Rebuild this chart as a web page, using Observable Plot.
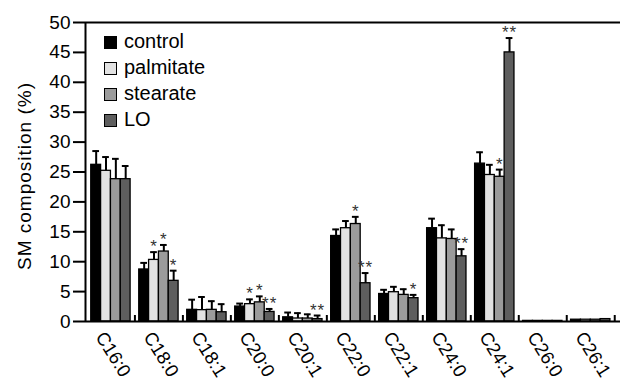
<!DOCTYPE html>
<html><head><meta charset="utf-8">
<script src="https://cdn.jsdelivr.net/npm/d3@7"></script>
<script src="https://cdn.jsdelivr.net/npm/@observablehq/plot@0.6"></script>
<style>
body{margin:0;background:#fff;font-family:"Liberation Sans",Arial,sans-serif;}
#wrap{position:relative;width:620px;height:380px;overflow:hidden;}
#legend{position:absolute;left:104px;top:28px;font-size:20px;line-height:26px;color:#000;}
#legend div{white-space:nowrap;}
.sw{display:inline-block;width:11px;height:11px;border:1.5px solid #000;margin-right:7px;vertical-align:-1px;}
</style></head><body><div id="wrap"><div id="legend"></div></div>
<script>
const categories = ["C16:0","C18:0","C18:1","C20:0","C20:1","C22:0","C22:1","C24:0","C24:1","C26:0","C26:1"];
const seriesNames = ["control","palmitate","stearate","LO"];
const seriesColors = ["#000000","#e2e2e2","#9b9b9b","#5e5e5e"];

const control    = [26.2, 8.7, 1.95, 2.5, 0.7, 14.3, 4.6, 15.6, 26.4, 0.1, 0.3];
const palmitate  = [25.2, 10.3, 1.9, 2.9, 0.5, 15.6, 4.9, 13.9, 24.5, 0.1, 0.3];
const stearate   = [23.8, 11.7, 1.95, 3.2, 0.5, 16.3, 4.45, 13.8, 24.2, 0.1, 0.3];
const LO         = [23.8, 6.8, 1.55, 1.6, 0.4, 6.4, 3.9, 10.9, 45.0, 0.1, 0.4];

const controlErr   = [2.3, 1.1, 1.7, 0.5, 0.8, 1.1, 0.7, 1.6, 1.9, 0, 0];
const palmitateErr = [2.3, 1.3, 2.2, 0.8, 0.9, 1.2, 0.9, 2.2, 1.7, 0, 0];
const stearateErr  = [3.4, 1.1, 1.45, 1.0, 0.7, 1.2, 0.95, 1.6, 1.2, 0, 0];
const LOErr        = [2.2, 1.7, 1.35, 0.5, 0.6, 1.7, 0.55, 1.2, 2.4, 0, 0];

const controlSig   = ["","","","","","","","","","",""];
const palmitateSig = ["","*","","*","","","","","","",""];
const stearateSig  = ["","*","","*","","*","","","*","",""];
const LOSig        = ["","*","","**","**","**","*","**","**","",""];

const yLabel = "SM composition (%)";

const values = [control, palmitate, stearate, LO];
const errors = [controlErr, palmitateErr, stearateErr, LOErr];
const sigs = [controlSig, palmitateSig, stearateSig, LOSig];

const pad = 0.09, w = 0.205;
const data = [];
categories.forEach((c, i) => {
  seriesNames.forEach((s, j) => {
    const x1 = i + pad + j * w;
    data.push({cat: c, series: s, x1, x2: x1 + w, xc: x1 + w / 2,
      value: values[j][i], top: values[j][i] + errors[j][i], err: errors[j][i], sig: sigs[j][i]});
  });
});
const errData = data.filter(d => d.err > 0);
const sigData = data.filter(d => d.sig);

const xMin = -0.03, xMax = 11.12;
const chart = Plot.plot({
  width: 620, height: 380,
  marginLeft: 85, marginRight: 0, marginTop: 22, marginBottom: 59,
  style: {fontFamily: "'Liberation Sans', Arial, sans-serif", background: "#fff", color: "#000", overflow: "hidden"},
  x: {domain: [xMin, xMax]},
  y: {domain: [0, 50]},
  color: {domain: seriesNames, range: seriesColors},
  marks: [
    Plot.rectY(data, {x1: "x1", x2: "x2", y1: 0, y2: "value", fill: d => d.series, stroke: "#000", strokeWidth: 1.3}),
    Plot.ruleX(errData, {x: "xc", y1: "value", y2: "top", stroke: "#000", strokeWidth: 2}),
    Plot.ruleY(errData, {x1: d => d.xc - 0.07, x2: d => d.xc + 0.07, y: "top", stroke: "#000", strokeWidth: 2}),
    Plot.text(sigData, {x: "xc", y: "top", text: "sig", fontSize: 17, fill: "#333", lineAnchor: "top", dy: -12}),
    Plot.ruleX(d3.range(1, 12), {y1: 0, y2: 1, stroke: "#000", strokeWidth: 2}),
    Plot.ruleY([0, 50], {stroke: "#000", strokeWidth: 2}),
    Plot.ruleX([xMin], {y1: 0, y2: 50, stroke: "#000", strokeWidth: 2}),
    Plot.axisY({ticks: d3.range(0, 51, 5), tickSize: 12, tickPadding: 3, fontSize: 19, strokeWidth: 2, label: null}),
    Plot.text([yLabel], {frameAnchor: "left", textAnchor: "middle", rotate: -90, dx: -61, dy: 4, fontSize: 19, fill: "#000"}),
    Plot.axisX({ticks: d3.range(11).map(i => i + 0.5), tickFormat: t => categories[Math.floor(t)],
      tickSize: 0, tickPadding: 12, tickRotate: 58, fontSize: 18.5, label: null, dx: -11})
  ]
});
document.getElementById("wrap").prepend(chart);
chart.querySelectorAll("text").forEach(t => {
  if (/^\*+$/.test(t.textContent)) t.setAttribute("letter-spacing", "1");
  if (t.textContent === yLabel) t.setAttribute("letter-spacing", "1");
});
const lg = document.getElementById("legend");
seriesNames.forEach((s, j) => {
  const row = document.createElement("div");
  row.innerHTML = `<span class="sw" style="background:${seriesColors[j]}"></span>${s}`;
  lg.appendChild(row);
});
</script></body></html>
